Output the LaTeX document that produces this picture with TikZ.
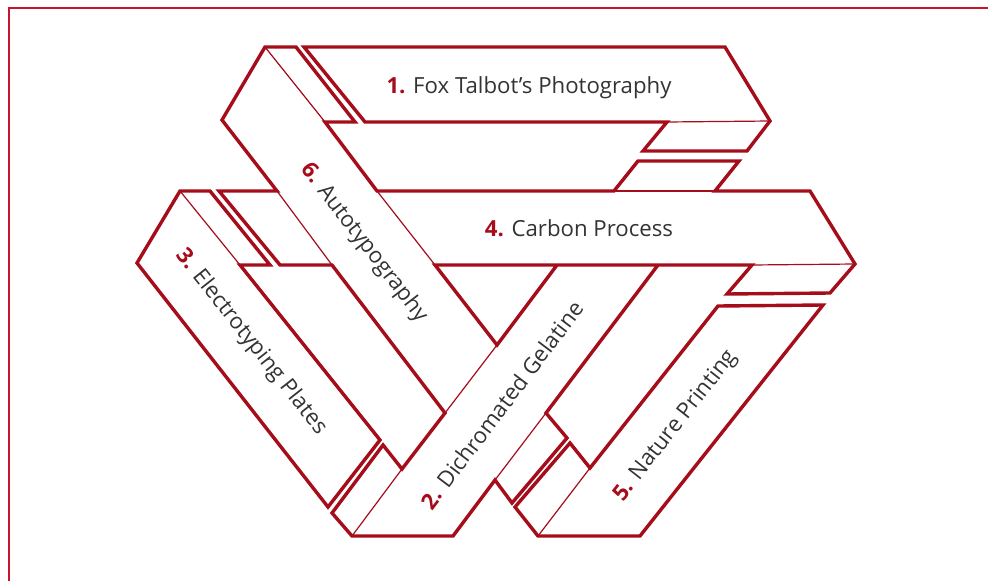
\documentclass[tikz,border=0pt]{standalone}
\usepackage{fontspec}
\setmainfont{Open Sans}
\definecolor{bred}{RGB}{166,13,27}
\definecolor{fred}{RGB}{200,20,44}
\definecolor{tgray}{RGB}{51,51,51}
\begin{document}
\begin{tikzpicture}[x=1pt,y=-1pt,
  thk/.style={draw=bred,line width=3.4pt,line join=miter,line cap=butt},
  thn/.style={draw=bred,line width=1.2pt},
  framel/.style={draw=fred,line width=1.3pt},
  lbl/.style={font=\fontsize{22.2}{27}\selectfont,text=tgray,inner sep=0pt}]
\fill[white] (0,0) rectangle (988,581);
\useasboundingbox (0,0) rectangle (988,581);
% frame
\draw[framel] (9,581)--(9,8)--(988,8);
% bar 1 (top horizontal)
\draw[thk] (667,122)--(365,122)--(304,47)--(725,47)--(770,121)--(747,151)--(643,151)--cycle;
\draw[thn] (667,122)--(770,121);
% bars 2, 4, 6 (connected outline)
\draw[thk] (658,265)--(546,413)--(567,438)--(512,503)--(495,480)--(453,536)--(352,536)--(332,513)--(383,445)--(402,469)--(445,413)
  --(332,265)--(280,265)--(219,191)--(277,191)--(222,120)--(265,47)--(296,47)--(355,122)--(325,122)--(377,191)
  --(614,191)--(638,161)--(739,161)--(715,191)--(810,191)--(855,264)--(830,293)--(727,294)--(752,265)--(435,265)
  --(497,345)--(557,265);
\draw[thn] (614,191)--(715,191);
\draw[thn] (752,265)--(855,264);
\draw[thn] (265,47)--(325,122);
\draw[thn] (277,191)--(332,265);
\draw[thn] (377,191)--(435,265);
\draw[thn] (445,413)--(497,345);
\draw[thn] (352,536)--(402,469);
\draw[thn] (495,480)--(546,413);
% bar 3
\draw[thk] (240,265)--(380,440)--(328,507)--(137,263)--(180,191)--(210,191)--(270,265)--cycle;
\draw[thn] (180,191)--(240,265);
% bar 5
\draw[thk] (590,468)--(570,443)--(515,507)--(538,536)--(640,536)--(823,305)--(718,306)--cycle;
\draw[thn] (538,536)--(590,468);
% labels
\node[lbl,anchor=base] (t1) at (529,93.3) {\textbf{\color{bred}1.} Fox Talbot’s Photography};
\node[lbl,anchor=base] (t4) at (579,236.7) {\textbf{\color{bred}4.} Carbon Process};
\node[lbl,rotate=-52.5] (t6) at (364,243) {\textbf{\color{bred}6.} Autotypography};
\node[lbl,rotate=-51.7] (t3) at (251,342) {\textbf{\color{bred}3.} Electrotyping Plates};
\node[lbl,rotate=52.9] (t2) at (502,405) {\textbf{\color{bred}2.} Dichromated Gelatine};
\node[lbl,rotate=51.8] (t5) at (676,426) {\textbf{\color{bred}5.} Nature Printing};
\end{tikzpicture}
\end{document}
